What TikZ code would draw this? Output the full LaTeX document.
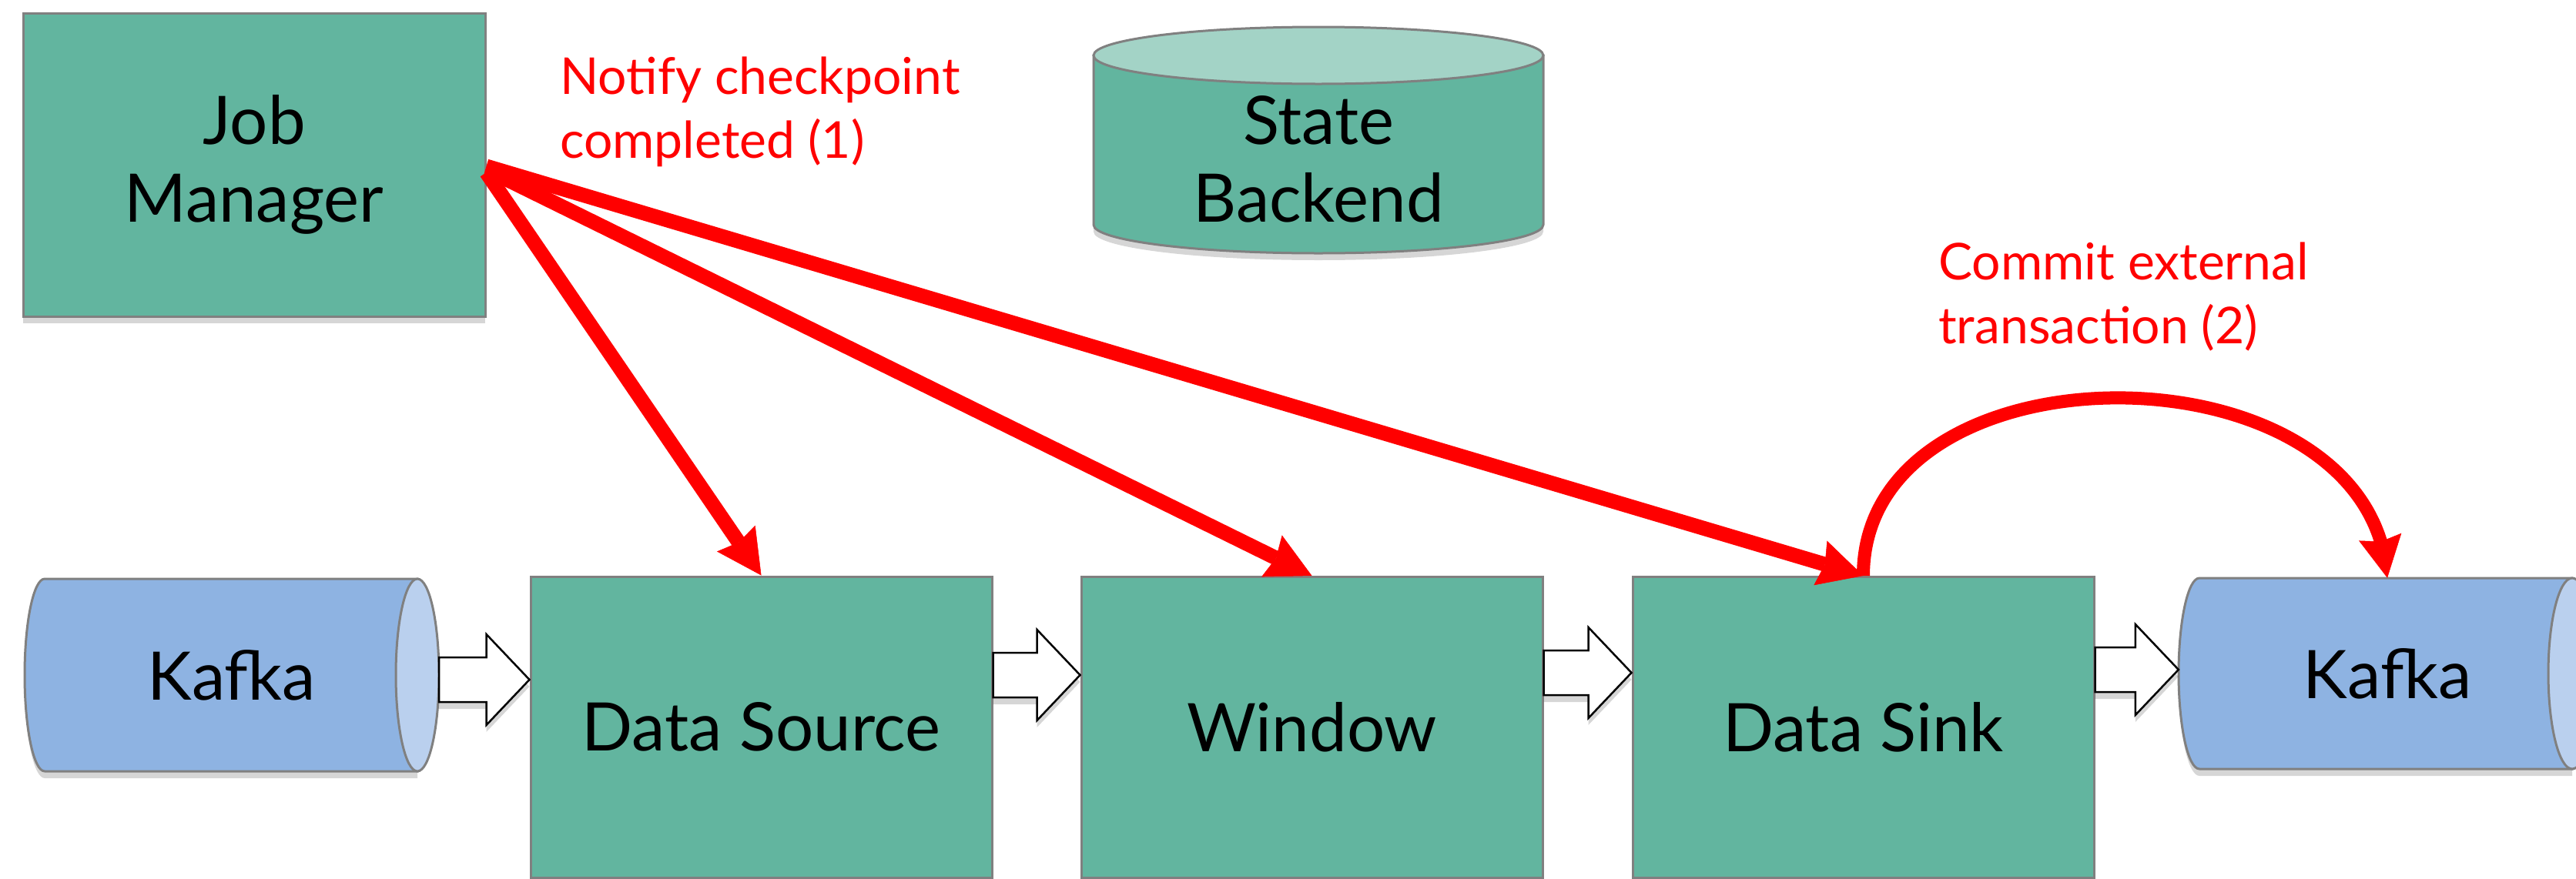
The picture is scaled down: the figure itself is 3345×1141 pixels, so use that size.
\documentclass[tikz,border=0pt]{standalone}
\usepackage{fontspec}
\setmainfont{Lato}
\usetikzlibrary{arrows.meta,bending,shadows,calc}
\definecolor{boxgreen}{RGB}{98,181,159}
\definecolor{topgreen}{RGB}{163,211,198}
\definecolor{kblue}{RGB}{142,179,226}
\definecolor{kcap}{RGB}{186,208,238}
\definecolor{edgegray}{RGB}{128,128,128}
\newcommand\blkfnt{\fontsize{87}{101}\selectfont}
\newcommand\redfnt{\fontsize{66}{83}\selectfont}
\begin{document}
\begin{tikzpicture}[x=1pt,y=-1pt,
  shade/.style={drop shadow={shadow xshift=0pt,shadow yshift=-9pt,opacity=.16,fill=black}},
  box/.style={draw=edgegray,line width=3pt,fill=boxgreen,minimum width=599pt,minimum height=391pt,inner sep=0pt,align=center,font=\blkfnt,shade},
  cyl/.style={draw=edgegray,line width=3pt,shade},
  cyltext/.style={inner sep=0pt,align=center,font=\blkfnt},
  hollow/.style={draw=black,line width=2.5pt,fill=white,shade},
  redarrow/.style={draw=red,line width=19pt,-{Stealth[length=58pt,width=60pt,inset=6pt,line width=0.5pt]}},
  redcurve/.style={draw=red,line width=17pt,-{Stealth[length=54pt,width=56pt,inset=6pt,line width=0.5pt]}},
  redlabel/.style={text=red,inner sep=0pt,align=left,font=\redfnt}]
\useasboundingbox (0,0) rectangle (3345,1141);
\clip (0,0) rectangle (3345,1141);

% State Backend cylinder
\draw[cyl,fill=boxgreen] (1420,72) -- (1420,292) arc[start angle=180,end angle=0,x radius=292,y radius=37] -- (2004,72) -- cycle;
\draw[draw=edgegray,line width=3pt,fill=topgreen] (1712,72) ellipse[x radius=292,y radius=37];
\node[cyltext] (sb) at (1712,207) {State\\Backend};

% left Kafka cylinder
\draw[cyl,fill=kblue] (58,752) -- (542,752) -- (542,1002) -- (58,1002) arc[start angle=90,end angle=270,x radius=26,y radius=125] -- cycle;
\draw[draw=edgegray,line width=3pt,fill=kcap] (542,877) ellipse[x radius=28,y radius=125];
\node[cyltext,minimum width=538pt,minimum height=250pt] (kl) at (301,877) {Kafka};

% right Kafka cylinder
\draw[cyl,fill=kblue] (2856,751) -- (3340,751) -- (3340,999) -- (2856,999) arc[start angle=90,end angle=270,x radius=27,y radius=124] -- cycle;
\draw[draw=edgegray,line width=3pt,fill=kcap] (3340,875) ellipse[x radius=31,y radius=124];
\node[cyltext,minimum width=542pt,minimum height=248pt] (kr) at (3100,875) {Kafka};

% boxes
\node[box,minimum width=600pt,minimum height=394pt] (jm) at (330,214) {Job\\Manager};
\node[box] (ds) at (988.5,944.5) {Data Source};
\node[box] (win) at (1703.5,945) {Window};
\node[box] (sink) at (2419.5,945) {Data Sink};

% hollow arrows
\coordinate (h1) at (0,883);
\coordinate (h2) at (0,877);
\coordinate (h3) at (0,874);
\coordinate (h4) at (0,870);
\draw[hollow] (ds.west |- h1) -- ++(-56,-59) -- ++(0,30) -- ($(kl.east |- h1)+(0,-29)$) -- ++(0,58) -- ($(ds.west |- h1)+(-56,29)$) -- ++(0,30) -- cycle;
\draw[hollow] (win.west |- h2) -- ++(-56,-59) -- ++(0,30) -- ($(ds.east |- h2)+(0,-29)$) -- ++(0,58) -- ($(win.west |- h2)+(-56,29)$) -- ++(0,30) -- cycle;
\draw[hollow] (sink.west |- h3) -- ++(-56,-59) -- ++(0,30) -- ($(win.east |- h3)+(0,-29)$) -- ++(0,58) -- ($(sink.west |- h3)+(-56,29)$) -- ++(0,30) -- cycle;
\draw[hollow] (kr.west |- h4) -- ++(-56,-59) -- ++(0,30) -- ($(sink.east |- h4)+(0,-29)$) -- ++(0,58) -- ($(kr.west |- h4)+(-56,29)$) -- ++(0,30) -- cycle;

% red connectors
\draw[redarrow] ($(jm.east)+(0,10)$) -- (ds.north);
\draw[redarrow] ($(jm.east)+(0,6)$) -- (win.north);
\draw[redarrow] ($(jm.east)+(0,2)$) -- (sink.north);
\draw[redcurve] (sink.north) .. controls +(0,-310) and +(-20,-310) .. (kr.north);

% labels
\node[redlabel,anchor=base west] (l1) at (727,205) {Notify checkpoint\\completed (1)};
\node[redlabel,anchor=base west] (l2) at (2517,446) {Commit external\\transaction (2)};
\end{tikzpicture}
\end{document}
